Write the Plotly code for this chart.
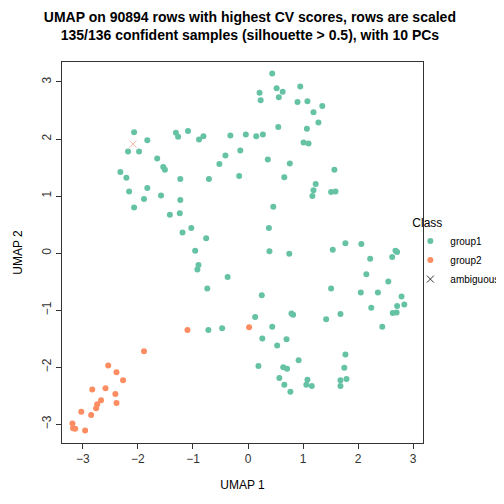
import plotly.graph_objects as go

# group1 points
g1_x = [-2.07, -1.83, -2.18, -1.98, -1.65, -1.54, -1.51, -2.32, -2.21, -1.23, -0.71, -2.16, -1.83, -1.89,
        -1.58, -1.23, -2.07, -1.42, -1.24, -1.03, -1.19, -0.76, -0.96, -1.31, -1.27, -1.09, -0.89, -0.81,
        -0.32, -0.04, -0.41, -0.14, -0.52, -0.16,
        0.44, 0.21, 0.23, 0.52, 0.63, 0.56, 0.95, 0.90, 1.08, 1.35, 1.19, 1.28, 0.55, 1.07, 0.15, 0.27,
        1.01, 1.10, 0.36, 0.76, 1.57, 0.66, 1.23, 1.19, 1.17, 1.51, 1.59, 0.46, 0.38, 0.39, 0.75, 1.54,
        1.77, 2.06, 2.68, 2.71, 2.62, 2.22,
        -0.90, -0.92, -0.37, -0.74, -0.72, -0.47,
        2.15, 2.55, 1.51, 0.25, 2.05, 2.36, 2.79, 2.71, 2.84, 2.24, 2.63, 2.70, 0.13, 0.79, 0.82, 1.68,
        1.42, 2.44, 0.44, 0.26, 0.70, 0.53, 0.92, 1.77, 0.19, 0.64, 0.71, 1.75, 0.57, 1.08, 0.66, 1.06,
        1.16, 0.77, 1.68, 1.79, 1.68]
g1_y = [2.12, 1.98, 1.78, 1.78, 1.66, 1.51, 1.46, 1.42, 1.32, 1.30, 1.30, 1.08, 1.14, 0.95,
        1.01, 0.93, 0.80, 0.67, 0.70, 0.44, 0.36, 0.26, 0.04, 2.11, 2.04, 2.14, 1.99, 2.05,
        2.06, 2.08, 1.71, 1.80, 1.56, 1.35,
        3.15, 2.81, 2.68, 2.89, 2.83, 2.73, 2.92, 2.65, 2.66, 2.58, 2.47, 2.29, 2.21, 2.18, 2.05, 2.08,
        1.94, 1.92, 1.64, 1.57, 1.46, 1.33, 1.21, 1.10, 1.00, 1.07, 1.08, 0.81, 0.44, 0.03, -0.01, 0.06,
        0.17, 0.16, 0.04, 0.02, -0.07, -0.10,
        -0.21, -0.29, -0.42, -0.62, -1.35, -1.32,
        -0.37, -0.50, -0.62, -0.74, -0.69, -0.69, -0.76, -0.93, -0.90, -0.96, -1.05, -1.04, -1.12, -1.06, -1.08, -1.07,
        -1.16, -1.29, -1.29, -1.50, -1.51, -1.62, -1.88, -1.78, -1.98, -2.00, -2.03, -2.01, -2.19, -2.22, -2.31, -2.31,
        -2.33, -2.43, -2.23, -2.21, -2.33]

# group2 points
g2_x = [-1.10, 0.02, -1.89, -2.54, -2.39, -2.27, -2.83, -2.59, -2.41, -2.67, -2.74, -2.76, -2.39,
        -3.03, -2.85, -3.19, -3.18, -3.14, -2.96]
g2_y = [-1.35, -1.30, -1.72, -1.97, -2.09, -2.23, -2.39, -2.37, -2.47, -2.58, -2.65, -2.72, -2.63,
        -2.78, -2.84, -2.99, -3.07, -3.08, -3.11]

# ambiguous
amb_x = [-2.09]
amb_y = [1.91]

fig = go.Figure()
fig.add_trace(go.Scatter(x=g1_x, y=g1_y, mode="markers", name="group1",
                         marker=dict(color="#66C2A5", size=6)))
fig.add_trace(go.Scatter(x=g2_x, y=g2_y, mode="markers", name="group2",
                         marker=dict(color="#FC8D62", size=6)))
fig.add_trace(go.Scatter(x=amb_x, y=amb_y, mode="markers", name="ambiguous", showlegend=False,
                         marker=dict(color="#F4B6A0", size=7, symbol="x-thin",
                                     line=dict(width=1, color="#F4B6A0"))))
# legend entry for ambiguous is drawn in black
fig.add_trace(go.Scatter(x=[None], y=[None], mode="markers", name="ambiguous",
                         marker=dict(color="#333333", size=7, symbol="x-thin",
                                     line=dict(width=1, color="#333333"))))

axis = dict(showgrid=False, zeroline=False, showline=True, mirror=True, linecolor="#333333",
            linewidth=1, ticks="outside", ticklen=5, tickcolor="#333333", tickfont=dict(size=12, color="#333333"))
fig.update_xaxes(axis, range=[-3.38, 3.18], tickvals=[-3, -2, -1, 0, 1, 2, 3], title=dict(text="UMAP 1", font=dict(size=12)))
fig.update_yaxes(axis, range=[-3.33, 3.35], tickvals=[-3, -2, -1, 0, 1, 2, 3], tickangle=-90,
                 title=dict(text="UMAP 2", font=dict(size=12)))

fig.update_layout(
    width=504, height=504,
    paper_bgcolor="white", plot_bgcolor="white",
    font=dict(family="Liberation Sans, Arial", size=12, color="black"),
    title=dict(text="<b>UMAP on 90894 rows with highest CV scores, rows are scaled<br>135/136 confident samples (silhouette > 0.5), with 10 PCs</b>",
               x=0.48, xanchor="center", y=0.972, yanchor="top", font=dict(size=14)),
    margin=dict(l=54, r=89, t=54, b=69, autoexpand=False),
    legend=dict(title=dict(text="Class", font=dict(size=12)), x=0.965, xanchor="left", y=0.5, yanchor="middle",
                font=dict(size=10), itemwidth=30, tracegroupgap=0, bgcolor="rgba(0,0,0,0)"),
)

fig.write_html("out.html")
